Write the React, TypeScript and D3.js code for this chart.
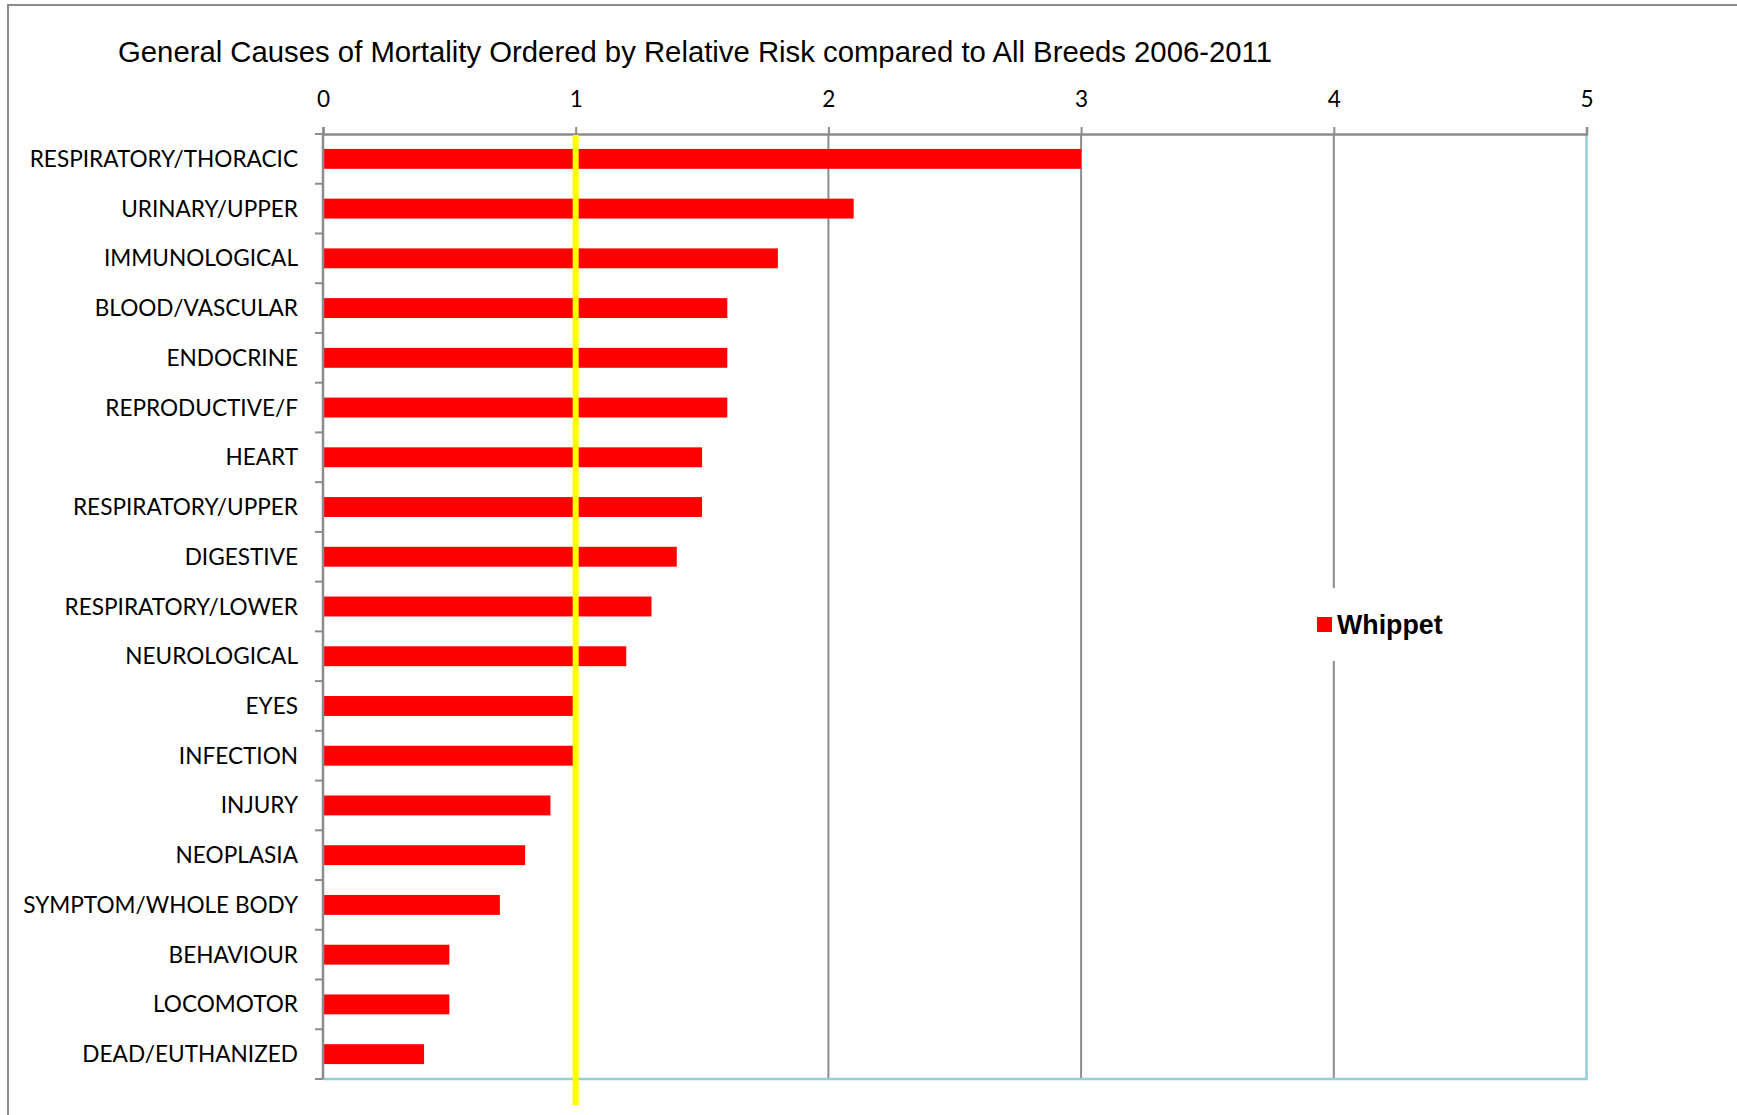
import { useEffect, useRef } from 'react';
import * as d3 from 'd3';

const categories = [
  'RESPIRATORY/THORACIC',
  'URINARY/UPPER',
  'IMMUNOLOGICAL',
  'BLOOD/VASCULAR',
  'ENDOCRINE',
  'REPRODUCTIVE/F',
  'HEART',
  'RESPIRATORY/UPPER',
  'DIGESTIVE',
  'RESPIRATORY/LOWER',
  'NEUROLOGICAL',
  'EYES',
  'INFECTION',
  'INJURY',
  'NEOPLASIA',
  'SYMPTOM/WHOLE BODY',
  'BEHAVIOUR',
  'LOCOMOTOR',
  'DEAD/EUTHANIZED',
];

const whippet = [3.0, 2.1, 1.8, 1.6, 1.6, 1.6, 1.5, 1.5, 1.4, 1.3, 1.2, 0.99, 0.99, 0.9, 0.8, 0.7, 0.5, 0.5, 0.4];

const xTicks = [0, 1, 2, 3, 4, 5];
const referenceValue = 1;
const seriesName = 'Whippet';
const title = 'General Causes of Mortality Ordered by Relative Risk compared to All Breeds 2006-2011';

const W = 1737;
const H = 1115;

const App = () => {
  const svgRef = useRef<SVGSVGElement | null>(null);

  useEffect(() => {
    const svg = d3.select(svgRef.current);
    svg.selectAll('*').remove();

    const plot = { left: 323, right: 1586.5, top: 134, bottom: 1079 };
    const labelFont = 'Lato, "Noto Sans", sans-serif';
    const arial = '"Liberation Sans", Arial, sans-serif';

    const x = d3.scaleLinear().domain([0, 5]).range([plot.left, plot.right]);
    const y = d3
      .scaleBand()
      .domain(categories)
      .range([plot.top, plot.bottom])
      .paddingInner(0.6)
      .paddingOuter(0.3);
    const step = y.step();

    // outer chart frame (only top/left visible)
    svg.append('rect')
      .attr('x', 8)
      .attr('y', 5)
      .attr('width', W + 40)
      .attr('height', H + 40)
      .attr('fill', '#fff')
      .attr('stroke', '#8c8c8c')
      .attr('stroke-width', 2);

    svg.append('text')
      .attr('x', 118)
      .attr('y', 62)
      .style('font-family', arial)
      .style('font-size', '29.3px')
      .style('fill', '#000')
      .text(title);

    // vertical gridlines
    svg.append('g')
      .selectAll('line')
      .data(xTicks.filter(d => d > 0 && d < 5))
      .join('line')
      .attr('x1', d => x(d))
      .attr('x2', d => x(d))
      .attr('y1', plot.top)
      .attr('y2', plot.bottom)
      .attr('stroke', '#8c8c8c')
      .attr('stroke-width', 2);

    // right & bottom plot border
    svg.append('path')
      .attr('d', `M${plot.right},${plot.top}V${plot.bottom}H${plot.left}`)
      .attr('fill', 'none')
      .attr('stroke', '#95cedc')
      .attr('stroke-width', 2.5);

    // bars
    svg.append('g')
      .selectAll('rect')
      .data(categories)
      .join('rect')
      .attr('x', x(0))
      .attr('y', d => y(d) as number)
      .attr('width', (d, i) => x(whippet[i]) - x(0))
      .attr('height', y.bandwidth())
      .attr('fill', '#ff0000');

    // top axis
    const xAxis = svg.append('g')
      .attr('transform', `translate(0,${plot.top})`)
      .call(d3.axisTop(x).tickValues(xTicks).tickSize(7).tickPadding(20).tickFormat(d3.format('d')));
    xAxis.select('.domain')
      .attr('stroke', '#8c8c8c')
      .attr('stroke-width', 2.5);
    xAxis.selectAll('.tick line')
      .attr('stroke', '#8c8c8c')
      .attr('stroke-width', 2);
    xAxis.selectAll('text')
      .style('font-family', labelFont)
      .style('font-size', '22.6px')
      .style('fill', '#000');

    // left axis line + boundary ticks
    svg.append('line')
      .attr('x1', plot.left)
      .attr('x2', plot.left)
      .attr('y1', plot.top)
      .attr('y2', plot.bottom)
      .attr('stroke', '#8c8c8c')
      .attr('stroke-width', 2.5);

    const bounds = d3.range(categories.length + 1).map(i => plot.top + i * step);
    svg.append('g')
      .selectAll('line')
      .data(bounds)
      .join('line')
      .attr('x1', plot.left - 8)
      .attr('x2', plot.left)
      .attr('y1', d => d)
      .attr('y2', d => d)
      .attr('stroke', '#8c8c8c')
      .attr('stroke-width', 2);

    svg.append('g')
      .selectAll('text')
      .data(categories)
      .join('text')
      .attr('x', 298)
      .attr('y', d => (y(d) as number) + y.bandwidth() / 2 + 8)
      .attr('text-anchor', 'end')
      .style('font-family', labelFont)
      .style('font-size', '22.6px')
      .style('fill', '#000')
      .text(d => d);

    // reference line at relative risk 1
    svg.append('line')
      .attr('x1', x(referenceValue))
      .attr('x2', x(referenceValue))
      .attr('y1', plot.top + 1)
      .attr('y2', 1105)
      .attr('stroke', '#ffff00')
      .attr('stroke-width', 6);

    // legend
    const legend = svg.append('g').attr('transform', 'translate(1305,588)');
    legend.append('rect')
      .attr('width', 160)
      .attr('height', 73)
      .attr('fill', '#fff');
    legend.append('rect')
      .attr('x', 12)
      .attr('y', 29)
      .attr('width', 15)
      .attr('height', 15)
      .attr('fill', '#ff0000');
    legend.append('text')
      .attr('x', 32)
      .attr('y', 46)
      .style('font-family', arial)
      .style('font-size', '26.8px')
      .style('font-weight', 'bold')
      .style('fill', '#000')
      .text(seriesName);
  }, []);

  return (
    <svg
      ref={svgRef}
      width={W}
      height={H}
      style={{ position: 'absolute', left: 0, top: 0, background: '#fff' }}
    />
  );
};

export default App;
